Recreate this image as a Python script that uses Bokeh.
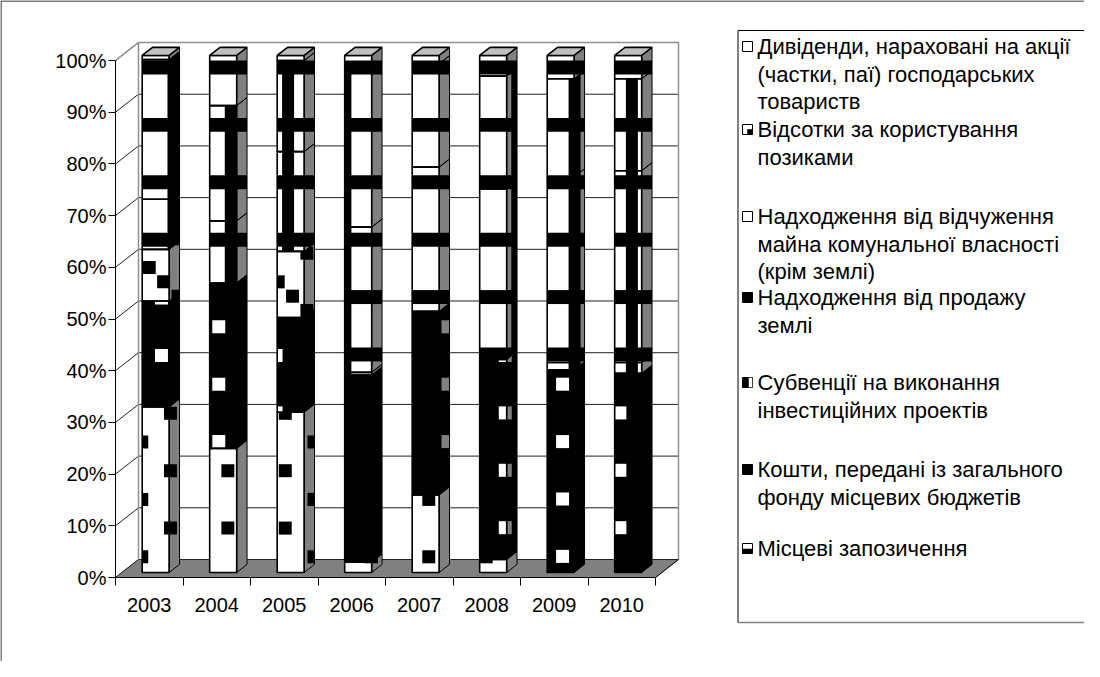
from bokeh.plotting import figure
from bokeh.models import FixedTicker, Range1d, ColumnDataSource, LinearAxis
from bokeh.embed import file_html
from bokeh.resources import INLINE

# ---------------- data ----------------
years = ["2003", "2004", "2005", "2006", "2007", "2008", "2009", "2010"]
# series, stacked from bottom to top (shares, %)
mistsevi_zapozychennia = [32.0, 24.0, 31.0, 2.0, 15.0, 2.5, 0.0, 0.0]
koshty_zagalnyi_fond = [20.5, 32.0, 18.3, 36.2, 35.5, 38.7, 39.2, 38.5]
subventsii = [10.0, 0.0, 12.8, 0.0, 0.0, 0.0, 0.0, 0.0]
prodazh_zemli = [9.7, 12.0, 0.0, 0.5, 0.0, 0.6, 1.4, 2.1]
vidchuzhennia_maina = [27.0, 22.3, 19.3, 28.1, 27.9, 32.4, 35.9, 37.1]
vidsotky = [0.0, 0.0, 17.6, 30.1, 20.0, 21.8, 19.0, 17.8]
dyvidendy = [0.8, 9.7, 1.0, 3.1, 1.6, 4.0, 4.5, 4.5]
y_ticks = [0, 10, 20, 30, 40, 50, 60, 70, 80, 90, 100]
y_tick_labels = ["0%", "10%", "20%", "30%", "40%", "50%", "60%", "70%", "80%", "90%", "100%"]

legend_lines = [
    ["Дивіденди, нараховані на акції", "(частки, паї) господарських", "товариств"],
    ["Відсотки за користування", "позиками"],
    ["Надходження від відчуження", "майна комунальної власності", "(крім землі)"],
    ["Надходження від продажу", "землі"],
    ["Субвенції на виконання", "інвестиційних проектів"],
    ["Кошти, передані із загального", "фонду місцевих бюджетів"],
    ["Місцеві запозичення"],
]

series = [mistsevi_zapozychennia, koshty_zagalnyi_fond, subventsii, prodazh_zemli,
          vidchuzhennia_maina, vidsotky, dyvidendy]

# ---------------- layout constants ----------------
W, H = 1084, 661
PXX, PXY = 67.5, 5.17          # pixels per category / per percent
OX, OY = 115, 577              # canvas position of the data origin


def cx(v):   # canvas x (px) -> data x
    return (v - OX) / PXX


def cy(v):   # canvas y (px) -> data y
    return (OY - v) / PXY


N = len(years)
DX, DY = 0.3407, 3.48       # depth of the 3D box (data units)
F0, FB = 0.28, 0.45         # bar front depth / bar depth (fractions of DX, DY)
BW = 0.4                    # bar width
FONT = "Liberation Sans"
GRAY = "#808080"

# pattern tiles (data units)
TX, TY = 0.8489, 11.102
BAND_Y, BAND_H = 98.65, 1.35
STRIPE_X, STRIPE_W = 0.859, 0.089
SQ_HX, SQ_HY = 0.096, 1.26


def bands():
    return [(-1, 10, BAND_Y + m * TY - BAND_H, BAND_Y + m * TY + BAND_H) for m in range(-10, 2)]


def stripes():
    return [(STRIPE_X + k * TX - STRIPE_W, STRIPE_X + k * TX + STRIPE_W, -5, 110) for k in range(-2, 12)]


def lattice(x0, y0, kstep, extra=((0.0, 0.0),)):
    out = []
    for k in range(-3, 14):
        for m in range(-14, 14):
            for ex, ey in extra:
                x = x0 + k * kstep[0] + ex
                y = y0 + k * kstep[1] + m * TY + ey
                if -1 < x < 10 and -5 < y < 110:
                    out.append((x - SQ_HX, x + SQ_HX, y - SQ_HY, y + SQ_HY))
    return out


PAT_CROSS = bands() + stripes()
PAT_BANDS = bands()
PAT_A = lattice(0.389, 26.21, (0.4252, -5.551))
PAT_B = lattice(0.681, 42.94, (0.8489, 5.551))
PAT_C = lattice(0.5, 59.96, (0.8489, 0.0), extra=[(0.2126 * i, -2.776 * i) for i in range(4)])

styles = [
    dict(base="white", pat=PAT_A, pc="black"),
    dict(base="black", pat=PAT_B, pc="white"),
    dict(base="white", pat=PAT_C, pc="black"),
    dict(base="white", pat=PAT_CROSS, pc="black"),
    dict(base="white", pat=PAT_CROSS, pc="black"),
    dict(base="white", pat=PAT_CROSS, pc="black"),
    dict(base="white", pat=PAT_BANDS, pc="black"),
]


def side_col(c):
    return GRAY if c == "white" else c


def clip(poly, x0, x1, y0, y1):
    def edge(pts, inside, inter):
        out = []
        for j in range(len(pts)):
            cur, prev = pts[j], pts[j - 1]
            ci, pi = inside(cur), inside(prev)
            if ci:
                if not pi:
                    out.append(inter(prev, cur))
                out.append(cur)
            elif pi:
                out.append(inter(prev, cur))
        return out

    def ix(v):
        return lambda a, b: (v, a[1] + (b[1] - a[1]) * (v - a[0]) / (b[0] - a[0]))

    def iy(v):
        return lambda a, b: (a[0] + (b[0] - a[0]) * (v - a[1]) / (b[1] - a[1]), v)

    pts = poly
    for inside, inter in [(lambda q: q[0] >= x0, ix(x0)), (lambda q: q[0] <= x1, ix(x1)),
                          (lambda q: q[1] >= y0, iy(y0)), (lambda q: q[1] <= y1, iy(y1))]:
        if not pts:
            break
        pts = edge(pts, inside, inter)
    return pts


base = dict(xs=[], ys=[], c=[])
pat = dict(xs=[], ys=[], c=[])
front_ol = dict(xs=[], ys=[])
side_ol = dict(xs=[], ys=[])
tops = dict(xs=[], ys=[])


def add_face(poly, fill, rects, pcol):
    base["xs"].append([q[0] for q in poly])
    base["ys"].append([q[1] for q in poly])
    base["c"].append(fill)
    bx0, bx1 = min(q[0] for q in poly), max(q[0] for q in poly)
    by0, by1 = min(q[1] for q in poly), max(q[1] for q in poly)
    for (a, b, c, d) in rects:
        if b < bx0 or a > bx1 or d < by0 or c > by1:
            continue
        cp = clip(poly, a, b, c, d)
        if len(cp) >= 3:
            pat["xs"].append([q[0] for q in cp])
            pat["ys"].append([q[1] for q in cp])
            pat["c"].append(pcol)


for i in range(N):
    x0 = i + 0.5 - BW / 2 + F0 * DX
    x1 = x0 + BW
    yoff = F0 * DY
    bdx, bdy = FB * DX, FB * DY
    cum = 0.0
    for s, st in zip(series, styles):
        v = s[i]
        if v <= 0:
            continue
        lo, hi = yoff + cum, yoff + cum + v
        cum += v
        side = [(x1, lo), (x1 + bdx, lo + bdy), (x1 + bdx, hi + bdy), (x1, hi)]
        front = [(x0, lo), (x1, lo), (x1, hi), (x0, hi)]
        add_face(side, side_col(st["base"]), st["pat"], side_col(st["pc"]))
        add_face(front, st["base"], st["pat"], st["pc"])
        side_ol["xs"].append([q[0] for q in side])
        side_ol["ys"].append([q[1] for q in side])
        front_ol["xs"].append([q[0] for q in front])
        front_ol["ys"].append([q[1] for q in front])
    top = yoff + cum
    tops["xs"].append([x0, x1, x1 + bdx, x0 + bdx])
    tops["ys"].append([top, top, top + bdy, top + bdy])

# ---------------- figure (frame = whole canvas) ----------------
p = figure(width=W, height=H, min_border=0,
           x_range=Range1d(cx(0), cx(W)), y_range=Range1d(cy(H), cy(0)),
           x_axis_location=None, y_axis_location=None,
           output_backend="svg", toolbar_location=None, tools="")
p.outline_line_color = None
p.grid.visible = False

# outer chart border (left and top edges)
p.segment(x0=[cx(0.5), cx(0.5)], y0=[cy(0.5), cy(0.5)], x1=[cx(0.5), cx(W)], y1=[cy(H), cy(0.5)],
          line_color="black", line_width=1)

# floor
p.patch([0, N, N + DX, DX], [0, 0, DY, DY], fill_color=GRAY, line_color=GRAY)
# back wall gridlines and side-wall diagonals
p.segment(x0=[DX] * len(y_ticks), x1=[N + DX] * len(y_ticks),
          y0=[t + DY for t in y_ticks], y1=[t + DY for t in y_ticks],
          line_color="#202020", line_width=1)
p.segment(x0=[0] * len(y_ticks), x1=[DX] * len(y_ticks),
          y0=y_ticks, y1=[t + DY for t in y_ticks], line_color="#202020", line_width=1)
p.line([DX, DX, N + DX, N + DX], [DY, 100 + DY, 100 + DY, DY], line_color="#909090", line_width=1.5)
p.line([0, DX], [100, 100 + DY], line_color="#909090", line_width=1.5)
p.line([N, N + DX], [0, DY], line_color="black", line_width=1)

p.patches("xs", "ys", fill_color="c", line_color=None, source=ColumnDataSource(base))
p.patches("xs", "ys", fill_color="c", line_color=None, source=ColumnDataSource(pat))
p.patches("xs", "ys", fill_color=None, line_color="black", line_width=1, source=ColumnDataSource(side_ol))
p.patches("xs", "ys", fill_color=None, line_color="black", line_width=1.6, source=ColumnDataSource(front_ol))
p.patches("xs", "ys", fill_color="#c0c0c0", line_color="black", line_width=1.6, source=ColumnDataSource(tops))

# axes placed inside the frame at the data origin
yax = LinearAxis(fixed_location=0, ticker=FixedTicker(ticks=y_ticks), bounds=(0, 100))
yax.major_label_overrides = {t: l for t, l in zip(y_ticks, y_tick_labels)}
yax.minor_tick_line_color = None
yax.major_tick_in = 0
yax.major_tick_out = 7
yax.major_label_standoff = 2
p.add_layout(yax, "left")

centers = [i + 0.5 for i in range(N)]
xax = LinearAxis(fixed_location=0, ticker=FixedTicker(ticks=centers, minor_ticks=list(range(N + 1))),
                 bounds=(0, N))
xax.major_label_overrides = {c: y for c, y in zip(centers, years)}
xax.major_tick_line_color = None
xax.major_tick_out = 8
xax.minor_tick_out = 8
xax.minor_tick_in = 0
xax.minor_tick_line_color = "black"
xax.major_label_standoff = 12
p.add_layout(xax, "below")

for ax in (xax, yax):
    ax.axis_line_color = "black"
    ax.major_label_text_font = FONT
    ax.major_label_text_font_size = "20px"
    ax.major_label_text_color = "black"

# ---------------- legend ----------------
LX0, LY0, LY1 = 737, 30, 622
p.segment(x0=[cx(LX0 + 0.5), cx(LX0 + 0.5)], y0=[cy(LY0), cy(LY0)],
          x1=[cx(LX0 + 0.5), cx(W)], y1=[cy(LY1), cy(LY0)], line_color="black", line_width=1)
p.segment(x0=[cx(LX0)], y0=[cy(LY1)], x1=[cx(W)], y1=[cy(LY1)], line_color=GRAY, line_width=1.5)

first_y = [46, 129, 216, 297, 382, 469, 548]
STEP = 27.5
icon_fill = ["white", "white", "white", "black", "black", "black", "white"]
icon_part = [None, (0.5, 1, 0.5, 1), None, None, (0.6, 1, 0, 1), None, (0, 1, 0.55, 1)]
icon_part_col = [None, "black", None, None, "white", None, "black"]
tx, ty, tt = [], [], []
for lines, y0, f, part, pc in zip(legend_lines, first_y, icon_fill, icon_part, icon_part_col):
    p.quad(left=[cx(742)], right=[cx(752)], top=[cy(y0 - 5)], bottom=[cy(y0 + 5)],
           fill_color=f, line_color="black")
    if part:
        p.quad(left=[cx(742 + 10 * part[0])], right=[cx(742 + 10 * part[1])],
               top=[cy(y0 - 5 + 10 * part[2])], bottom=[cy(y0 - 5 + 10 * part[3])],
               fill_color=pc, line_color="black", line_width=0.5)
    for j, t in enumerate(lines):
        tx.append(cx(757))
        ty.append(cy(y0 + j * STEP))
        tt.append(t)
p.text(x=tx, y=ty, text=tt, text_font={"value": FONT}, text_font_size="22px",
       text_baseline="middle", text_align="left", text_color="black")

open("out.html", "w").write(file_html(p, INLINE))
